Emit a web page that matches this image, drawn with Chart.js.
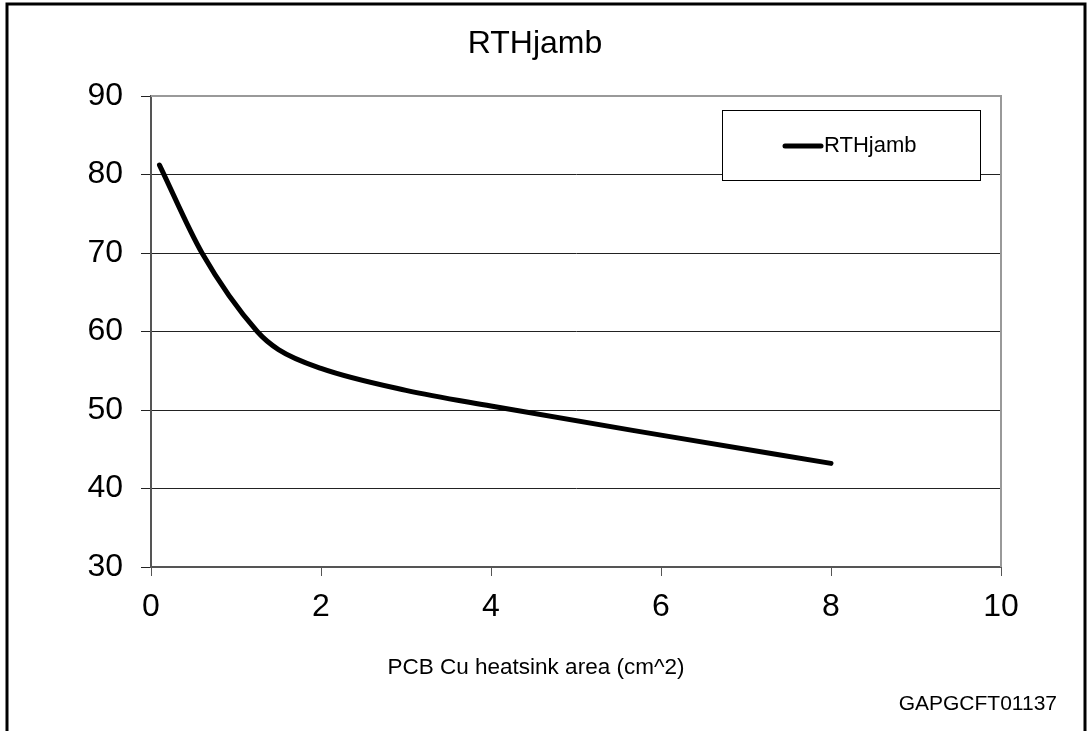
<!DOCTYPE html>
<html>
<head>
<meta charset="utf-8">
<title>RTHjamb</title>
<script src="https://cdn.jsdelivr.net/npm/chart.js@4"></script>
<style>
  body { margin: 0; background: #fff; }
  #wrap { width: 1087px; height: 731px; }
</style>
</head>
<body>
<div id="wrap"><canvas id="rthChart" width="1087" height="731"></canvas></div>
<script>
// values
const areaCm2 = [0.1, 0.6, 1.25, 1.5, 2, 3, 4, 6, 8];
const rthJamb = [81.2, 70, 60, 57.7, 55.3, 52.5, 50.5, 46.8, 43.2];
const xTicks = [0, 2, 4, 6, 8, 10];
const yTicks = [30, 40, 50, 60, 70, 80, 90];
const seriesName = 'RTHjamb';
const chartTitle = 'RTHjamb';
const xTitle = 'PCB Cu heatsink area (cm^2)';
const footnote = 'GAPGCFT01137';

const FONT = '"Liberation Sans", Arial, sans-serif';

// frame, title, axis title, legend box and code label
const decorations = {
    id: 'decorations',
    beforeDraw(chart) {
        const ctx = chart.ctx;
        ctx.save();
        ctx.strokeStyle = '#000';
        ctx.lineWidth = 3;
        ctx.beginPath();
        ctx.moveTo(7, 731);
        ctx.lineTo(7, 4);
        ctx.lineTo(1085, 4);
        ctx.lineTo(1085, 731);
        ctx.stroke();
        ctx.restore();
    },
    afterDatasetsDraw(chart) {
        const ctx = chart.ctx;
        const a = chart.chartArea;
        ctx.save();
        // grey top / right plot border
        ctx.strokeStyle = '#999';
        ctx.lineWidth = 2;
        ctx.beginPath();
        ctx.moveTo(a.left, a.top);
        ctx.lineTo(a.right, a.top);
        ctx.lineTo(a.right, a.bottom);
        ctx.stroke();

        ctx.fillStyle = '#000';
        ctx.font = '32px ' + FONT;
        ctx.textAlign = 'center';
        ctx.textBaseline = 'alphabetic';
        ctx.fillText(chartTitle, 535, 53);

        ctx.font = '22.5px ' + FONT;
        ctx.textBaseline = 'middle';
        ctx.fillText(xTitle, 536, 668);

        ctx.font = '21px ' + FONT;
        ctx.textAlign = 'right';
        ctx.fillText(footnote, 1057, 704);

        // legend
        ctx.fillStyle = '#fff';
        ctx.fillRect(722, 110, 259, 71);
        ctx.strokeStyle = '#000';
        ctx.lineWidth = 1;
        ctx.strokeRect(722.5, 110.5, 258, 70);
        const ds = chart.data.datasets[0];
        ctx.strokeStyle = ds.borderColor;
        ctx.lineWidth = 5;
        ctx.lineCap = 'round';
        ctx.beginPath();
        ctx.moveTo(785, 146);
        ctx.lineTo(821, 146);
        ctx.stroke();
        ctx.fillStyle = '#000';
        ctx.font = '22px ' + FONT;
        ctx.textAlign = 'left';
        ctx.fillText(ds.label, 824, 146);
        ctx.restore();
    }
};

const ctx = document.getElementById('rthChart').getContext('2d');
const rthChart = new Chart(ctx, {
    type: 'scatter',
    data: {
        datasets: [{
            label: seriesName,
            data: areaCm2.map((x, i) => ({ x: x, y: rthJamb[i] })),
            showLine: true,
            borderColor: '#000',
            borderWidth: 5,
            borderCapStyle: 'round',
            pointRadius: 0,
            cubicInterpolationMode: 'monotone'
        }]
    },
    options: {
        responsive: false,
        animation: false,
        layout: { padding: { top: 96, right: 86, left: 0, bottom: 0 } },
        plugins: {
            legend: { display: false },
            tooltip: { enabled: false }
        },
        scales: {
            x: {
                type: 'linear',
                min: 0,
                max: 10,
                afterBuildTicks: scale => { scale.ticks = xTicks.map(v => ({ value: v })); },
                afterFit: scale => { scale.height = 164; },
                grid: { drawOnChartArea: false, drawTicks: true, tickLength: 9, color: '#555', lineWidth: 1 },
                border: { color: '#555', width: 2 },
                ticks: { color: '#000', font: { family: FONT, size: 32 }, padding: 12, maxRotation: 0 }
            },
            y: {
                min: 30,
                max: 90,
                afterBuildTicks: scale => { scale.ticks = yTicks.map(v => ({ value: v })); },
                afterFit: scale => { scale.width = 151; },
                grid: { color: '#222', lineWidth: 1, tickLength: 10 },
                border: { color: '#555', width: 2 },
                ticks: { color: '#000', font: { family: FONT, size: 32 }, padding: 18 }
            }
        }
    },
    plugins: [decorations]
});
</script>
</body>
</html>
